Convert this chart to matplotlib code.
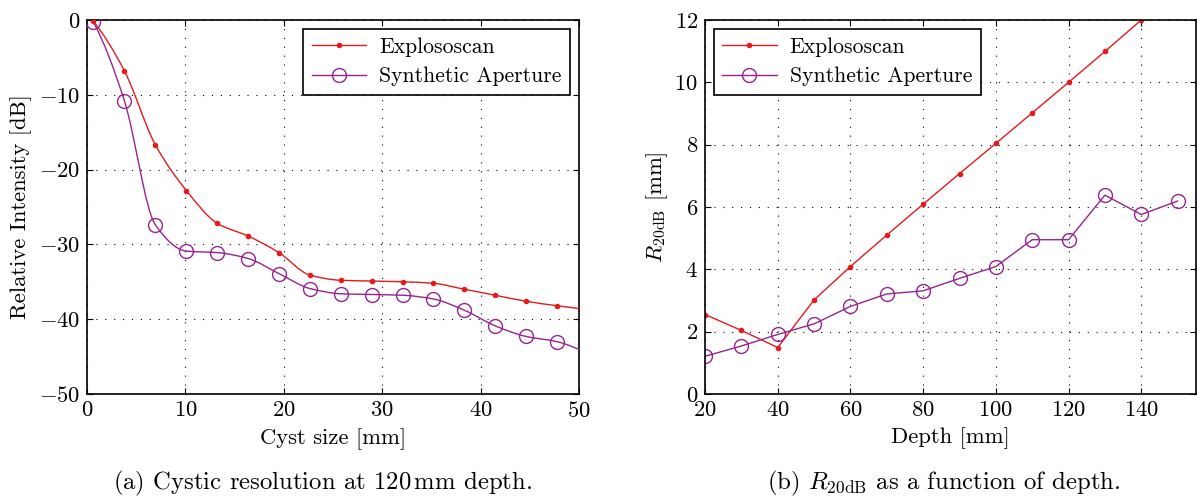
import numpy as np
import matplotlib
matplotlib.use("Agg")
import matplotlib.pyplot as plt
from matplotlib.path import Path
from matplotlib.patches import PathPatch
from matplotlib.lines import Line2D

plt.rcParams['font.family'] = ['cmr10', 'DejaVu Serif']
plt.rcParams['mathtext.fontset'] = 'cm'
plt.rcParams['axes.formatter.use_mathtext'] = True
plt.rcParams['axes.unicode_minus'] = True

RED = '#e41a1c'
PURPLE = '#97238f'
FS = 16.3

# --- (a) cystic resolution ---
cyst_size = [0.65, 3.8, 6.95, 10.1, 13.25, 16.4, 19.5, 22.65, 25.8, 28.95,
             32.1, 35.2, 38.35, 41.5, 44.6, 47.75, 50.9]
explo_db = [-0.2, -6.8, -16.7, -22.8, -27.2, -28.9, -31.1, -34.1, -34.8, -34.9,
            -35.0, -35.2, -36.0, -36.8, -37.6, -38.2, -38.7]
synth_db = [-0.3, -10.8, -27.4, -30.9, -31.1, -31.9, -33.9, -35.9, -36.6, -36.7,
            -36.8, -37.3, -38.8, -40.9, -42.3, -43.0, -44.6]

# --- (b) R20dB vs depth ---
depth = [20, 30, 40, 50, 60, 70, 80, 90, 100, 110, 120, 130, 140, 150]
explo_r20 = [2.55, 2.04, 1.49, 3.02, 4.09, 5.10, 6.09, 7.07, 8.04, 9.02,
             10.0, 10.99, 12.0, 13.0]
synth_r20 = [1.21, 1.54, 1.91, 2.25, 2.81, 3.21, 3.31, 3.71, 4.09, 4.95,
             4.95, 6.38, 5.76, 6.19]


def smooth_path(x, y):
    """Monotone (Fritsch-Carlson) cubic through the points, as Bezier path."""
    x = np.asarray(x, float)
    y = np.asarray(y, float)
    h = np.diff(x)
    d = np.diff(y) / h
    n = len(x)
    m = np.zeros(n)
    for k in range(1, n - 1):
        if d[k - 1] * d[k] > 0:
            w1 = 2 * h[k] + h[k - 1]
            w2 = h[k] + 2 * h[k - 1]
            m[k] = (w1 + w2) / (w1 / d[k - 1] + w2 / d[k])
    for k0, a, b, ha, hb in [(0, d[0], d[1], h[0], h[1]),
                             (n - 1, d[-1], d[-2], h[-1], h[-2])]:
        mk = ((2 * ha + hb) * a - ha * b) / (ha + hb)
        if np.sign(mk) != np.sign(a):
            mk = 0.0
        elif np.sign(a) != np.sign(b) and abs(mk) > 3 * abs(a):
            mk = 3 * a
        m[k0] = mk
    verts = [(x[0], y[0])]
    codes = [Path.MOVETO]
    for i in range(n - 1):
        verts += [(x[i] + h[i] / 3, y[i] + m[i] * h[i] / 3),
                  (x[i + 1] - h[i] / 3, y[i + 1] - m[i + 1] * h[i] / 3),
                  (x[i + 1], y[i + 1])]
        codes += [Path.CURVE4] * 3
    return Path(verts, codes)


def style_axes(ax):
    ax.grid(True, color='black', linestyle=(0, (1, 7)), linewidth=0.8)
    ax.tick_params(direction='in', top=True, right=True, length=4,
                   width=0.8, labelsize=FS, pad=5)
    for s in ax.spines.values():
        s.set_linewidth(1.2)


fig = plt.figure(figsize=(11.97, 5.01), dpi=100)

ax1 = fig.add_axes([0.0727, 0.2136, 0.411, 0.7465])
ax1.add_patch(PathPatch(smooth_path(cyst_size, explo_db), fill=False,
                        edgecolor=RED, linewidth=1.0, zorder=3))
ax1.add_patch(PathPatch(smooth_path(cyst_size, synth_db), fill=False,
                        edgecolor=PURPLE, linewidth=1.0, zorder=3))
ax1.plot(cyst_size, explo_db, ls='none', marker='o', ms=3, color=RED, zorder=4)
ax1.plot(cyst_size, synth_db, ls='none', marker='o', ms=10, mfc='none',
         mec=PURPLE, mew=1.0, zorder=4)
ax1.set_xlim(0, 50)
ax1.set_ylim(-50, 0)
ax1.set_xticks([0, 10, 20, 30, 40, 50])
ax1.set_yticks([-50, -40, -30, -20, -10, 0])
ax1.set_xlabel('Cyst size [mm]', fontsize=FS, labelpad=5)
ax1.set_ylabel('Relative Intensity [dB]', fontsize=FS, labelpad=5)
style_axes(ax1)

ax2 = fig.add_axes([0.589, 0.2136, 0.410, 0.7465])
ax2.plot(depth, explo_r20, color=RED, lw=1.0, marker='o', ms=3)
ax2.plot(depth, synth_r20, color=PURPLE, lw=1.0, marker='o', ms=10,
         mfc='none', mec=PURPLE, mew=1.0)
ax2.set_xlim(20, 155)
ax2.set_ylim(0, 12)
ax2.set_xticks([20, 40, 60, 80, 100, 120, 140])
ax2.set_yticks([0, 2, 4, 6, 8, 10, 12])
ax2.set_xlabel('Depth [mm]', fontsize=FS, labelpad=5)
ax2.set_ylabel(r'$R_{20\mathrm{dB}}$ [mm]', fontsize=FS, labelpad=3)
style_axes(ax2)

handles = [
    Line2D([], [], color=RED, lw=1.0, marker='o', ms=3),
    Line2D([], [], color=PURPLE, lw=1.0, marker='o', ms=10, mfc='none', mew=1.0),
]
labels = ['Explososcan', 'Synthetic Aperture']
for ax, loc in [(ax1, 'upper right'), (ax2, 'upper left')]:
    leg = ax.legend(handles, labels, loc=loc, fontsize=15.6, fancybox=False,
                    edgecolor='black', framealpha=1, borderaxespad=0.4,
                    handlelength=2.5, borderpad=0.4, labelspacing=0.45,
                    handletextpad=0.6)
    leg.get_frame().set_linewidth(1.2)

fig.text(323 / 1197, 1 - 483 / 501, '(a) Cystic resolution at 120$\\,$mm depth.',
         ha='center', va='center', fontsize=17.8)
fig.text(944 / 1197, 1 - 483 / 501,
         r'(b) $R_{20\mathrm{dB}}$ as a function of depth.',
         ha='center', va='center', fontsize=17.8)

fig.savefig('out.png', dpi=100)
